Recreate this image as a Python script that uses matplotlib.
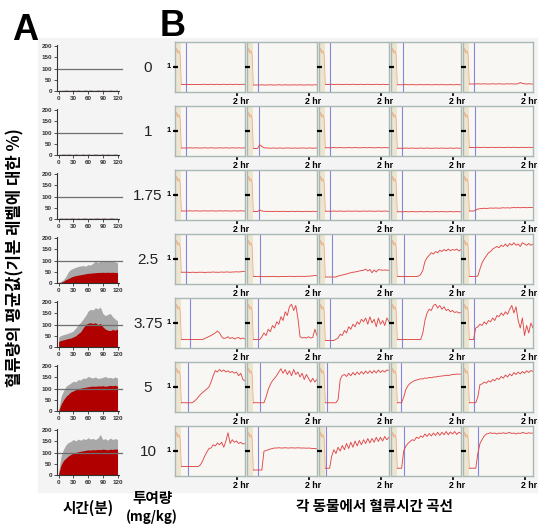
import numpy as np
import matplotlib.pyplot as plt
from matplotlib.patches import Rectangle

plt.rcParams['font.family'] = ['Noto Sans CJK KR', 'DejaVu Sans']

W, H = 538, 524

doses = ['0', '1', '1.75', '2.5', '3.75', '5', '10']

# panel A: time (min) and % of baseline, mean (red) and mean+SD (grey)
t_a = np.arange(0, 121, 5)
a_mean = [
    [1, 2, 2, 3, 2, 2, 3, 2, 3, 2, 2, 3, 2, 3, 2, 2, 3, 2, 3, 2, 2, 3, 2, 2, 3],
    [2, 2, 3, 2, 3, 2, 2, 3, 2, 2, 3, 2, 3, 2, 2, 3, 2, 2, 3, 2, 3, 2, 2, 3, 2],
    [2, 3, 2, 3, 2, 3, 3, 2, 3, 2, 3, 3, 2, 3, 2, 3, 3, 2, 3, 3, 2, 3, 3, 2, 3],
    [0, 3, 8, 15, 20, 26, 30, 33, 35, 37, 39, 41, 43, 44, 45, 46, 47, 47, 48, 47, 48, 47, 48, 47, 46],
    [25, 29, 32, 35, 38, 40, 45, 50, 60, 68, 85, 100, 106, 108, 105, 108, 100, 105, 90, 80, 75, 73, 78, 75, 80],
    [0, 30, 50, 65, 75, 85, 90, 95, 100, 102, 104, 106, 108, 110, 111, 110, 112, 111, 113, 110, 112, 114, 113, 115, 110],
    [5, 45, 65, 75, 85, 92, 97, 100, 104, 106, 108, 110, 112, 111, 113, 112, 114, 113, 115, 114, 112, 115, 114, 116, 115],
]
a_upper = [
    [3, 4, 4, 5, 4, 4, 5, 4, 5, 4, 4, 5, 4, 5, 4, 4, 5, 4, 5, 4, 4, 5, 4, 4, 5],
    [4, 4, 5, 4, 5, 4, 4, 5, 4, 4, 5, 4, 5, 4, 4, 5, 4, 4, 5, 4, 5, 4, 4, 5, 4],
    [4, 5, 4, 5, 4, 5, 5, 4, 5, 4, 5, 5, 4, 5, 4, 5, 5, 4, 5, 5, 4, 5, 5, 4, 5],
    [2, 8, 15, 30, 50, 61, 66, 70, 74, 76, 78, 75, 82, 80, 88, 98, 92, 97, 95, 99, 98, 96, 99, 94, 90],
    [45, 51, 55, 58, 62, 66, 72, 85, 100, 110, 125, 140, 160, 168, 165, 175, 170, 178, 150, 140, 145, 150, 135, 125, 117],
    [5, 65, 90, 110, 118, 125, 133, 130, 140, 138, 147, 145, 154, 150, 147, 152, 145, 147, 150, 154, 148, 150, 146, 152, 147],
    [15, 85, 115, 135, 145, 150, 158, 152, 160, 155, 162, 158, 166, 160, 163, 158, 165, 181, 158, 162, 155, 165, 158, 162, 159],
]

# panel B: single animal curves, relative flow (1 = baseline), t = -10 .. 140 min
t_b = np.arange(-10, 141, 5)
pre_t = [-23, -21, -18, -15, -13]
pre_v = [1.6, 1.75, 1.55, 1.65, 1.5]
onset = [
    [2, 2, 2, 3, 2],
    [2, 3, 2, 2, 3],
    [2, 3, 2, 2, 3],
    [0, 5, 5, 5, 3],
    [11, 2, 2, 2, 2],
    [6, 5, -6, -2, 2],
    [5, 2, -8, 5, 10],
]
b_dose0 = [
    [0.30, 0.30, 0.30, 0.30, 0.30, 0.30, 0.30, 0.30, 0.30, 0.30, 0.30, 0.31, 0.30, 0.30, 0.31, 0.30, 0.30, 0.31, 0.30, 0.30,
     0.31, 0.30, 0.30, 0.31, 0.30, 0.30, 0.31, 0.30, 0.30, 0.31, 0.30],
    [0.28, 0.28, 0.28, 0.28, 0.29, 0.28, 0.28, 0.28, 0.29, 0.28, 0.28, 0.28, 0.29, 0.28, 0.28, 0.29, 0.28, 0.28, 0.28, 0.29,
     0.28, 0.28, 0.29, 0.28, 0.28, 0.28, 0.29, 0.28, 0.28, 0.29, 0.28],
    [0.30, 0.30, 0.30, 0.31, 0.30, 0.30, 0.31, 0.30, 0.30, 0.30, 0.31, 0.30, 0.30, 0.31, 0.30, 0.30, 0.30, 0.31, 0.30, 0.30,
     0.31, 0.30, 0.30, 0.30, 0.31, 0.30, 0.30, 0.31, 0.30, 0.30, 0.30],
    [0.29, 0.29, 0.29, 0.29, 0.30, 0.29, 0.29, 0.30, 0.29, 0.29, 0.29, 0.30, 0.29, 0.29, 0.30, 0.29, 0.29, 0.29, 0.30, 0.29,
     0.29, 0.30, 0.29, 0.29, 0.29, 0.30, 0.29, 0.29, 0.30, 0.29, 0.29],
    [0.32, 0.32, 0.32, 0.32, 0.33, 0.32, 0.32, 0.33, 0.32, 0.32, 0.32, 0.33, 0.32, 0.32, 0.33, 0.32, 0.32, 0.32, 0.33, 0.32,
     0.33, 0.32, 0.32, 0.33, 0.38, 0.34, 0.33, 0.32, 0.33, 0.32, 0.32],
]
b_dose1 = [
    [0.32, 0.32, 0.32, 0.32, 0.33, 0.32, 0.32, 0.33, 0.32, 0.32, 0.32, 0.33, 0.32, 0.32, 0.33, 0.32, 0.32, 0.32, 0.33, 0.32,
     0.32, 0.33, 0.32, 0.32, 0.33, 0.32, 0.32, 0.33, 0.32, 0.32, 0.33],
    [0.30, 0.30, 0.30, 0.45, 0.38, 0.33, 0.32, 0.32, 0.31, 0.32, 0.32, 0.31, 0.32, 0.32, 0.31, 0.32, 0.32, 0.32, 0.31, 0.32,
     0.32, 0.31, 0.32, 0.32, 0.32, 0.31, 0.32, 0.32, 0.31, 0.32, 0.32],
    [0.33, 0.33, 0.33, 0.33, 0.34, 0.33, 0.33, 0.34, 0.33, 0.33, 0.33, 0.34, 0.33, 0.33, 0.34, 0.33, 0.33, 0.33, 0.34, 0.33,
     0.33, 0.34, 0.33, 0.33, 0.33, 0.34, 0.33, 0.33, 0.34, 0.33, 0.33],
    [0.31, 0.31, 0.31, 0.31, 0.32, 0.31, 0.31, 0.32, 0.31, 0.31, 0.31, 0.32, 0.31, 0.31, 0.32, 0.31, 0.31, 0.31, 0.32, 0.31,
     0.31, 0.32, 0.31, 0.31, 0.31, 0.32, 0.31, 0.31, 0.32, 0.31, 0.31],
    [0.34, 0.34, 0.34, 0.34, 0.35, 0.34, 0.34, 0.35, 0.34, 0.34, 0.34, 0.35, 0.34, 0.34, 0.35, 0.34, 0.34, 0.34, 0.35, 0.34,
     0.34, 0.35, 0.34, 0.34, 0.34, 0.35, 0.34, 0.34, 0.35, 0.34, 0.34],
]
b_dose175 = [
    [0.36, 0.36, 0.36, 0.36, 0.37, 0.36, 0.36, 0.37, 0.36, 0.36, 0.36, 0.37, 0.36, 0.36, 0.37, 0.36, 0.36, 0.36, 0.37, 0.36,
     0.36, 0.37, 0.36, 0.36, 0.36, 0.37, 0.36, 0.36, 0.37, 0.36, 0.36],
    [0.34, 0.34, 0.34, 0.40, 0.36, 0.35, 0.34, 0.35, 0.34, 0.34, 0.34, 0.35, 0.34, 0.34, 0.35, 0.34, 0.34, 0.34, 0.35, 0.34,
     0.34, 0.35, 0.34, 0.34, 0.34, 0.35, 0.34, 0.34, 0.35, 0.34, 0.34],
    [0.35, 0.35, 0.35, 0.35, 0.36, 0.35, 0.35, 0.36, 0.35, 0.35, 0.35, 0.36, 0.35, 0.35, 0.36, 0.35, 0.35, 0.35, 0.36, 0.35,
     0.35, 0.36, 0.35, 0.35, 0.35, 0.36, 0.35, 0.35, 0.36, 0.35, 0.35],
    [0.33, 0.33, 0.33, 0.33, 0.34, 0.33, 0.33, 0.34, 0.33, 0.33, 0.33, 0.34, 0.33, 0.33, 0.34, 0.33, 0.33, 0.33, 0.34, 0.33,
     0.33, 0.34, 0.33, 0.33, 0.33, 0.34, 0.33, 0.33, 0.34, 0.33, 0.33],
    [0.36, 0.36, 0.36, 0.40, 0.44, 0.45, 0.46, 0.47, 0.46, 0.47, 0.48, 0.47, 0.48, 0.48, 0.47, 0.48, 0.49, 0.48, 0.49, 0.48,
     0.49, 0.50, 0.49, 0.50, 0.49, 0.50, 0.50, 0.49, 0.50, 0.50, 0.50],
]
b_dose25 = [
    [0.47, 0.47, 0.47, 0.47, 0.46, 0.47, 0.47, 0.46, 0.47, 0.47, 0.47, 0.46, 0.47, 0.47, 0.47, 0.48, 0.47, 0.47, 0.47, 0.48,
     0.47, 0.48, 0.48, 0.47, 0.48, 0.48, 0.49, 0.48, 0.49, 0.50, 0.50],
    [0.30, 0.30, 0.30, 0.30, 0.30, 0.29, 0.30, 0.30, 0.30, 0.30, 0.30, 0.30, 0.29, 0.30, 0.30, 0.30, 0.30, 0.31, 0.30, 0.30,
     0.30, 0.31, 0.30, 0.31, 0.30, 0.31, 0.31, 0.32, 0.33, 0.34, 0.33],
    [0.28, 0.28, 0.28, 0.28, 0.28, 0.28, 0.32, 0.34, 0.36, 0.38, 0.40, 0.43, 0.45, 0.47, 0.48, 0.50, 0.52, 0.54, 0.55, 0.60,
     0.52, 0.58, 0.45, 0.56, 0.48, 0.58, 0.56, 0.55, 0.56, 0.55, 0.55],
    [0.30, 0.30, 0.30, 0.30, 0.30, 0.30, 0.30, 0.30, 0.30, 0.30, 0.32, 0.38, 0.55, 0.90, 1.05, 1.15, 1.25, 1.20, 1.30, 1.25,
     1.35, 1.30, 1.38, 1.32, 1.40, 1.33, 1.38, 1.35, 1.40, 1.32, 1.38],
    [0.30, 0.30, 0.30, 0.30, 0.32, 0.60, 0.85, 1.00, 1.12, 1.25, 1.30, 1.40, 1.45, 1.50, 1.45, 1.55, 1.50, 1.60, 1.50, 1.62,
     1.55, 1.65, 1.55, 1.60, 1.50, 1.65, 1.60, 1.55, 1.62, 1.55, 1.60],
]
b_dose375 = [
    [0.34, 0.34, 0.34, 0.34, 0.34, 0.34, 0.34, 0.34, 0.34, 0.34, 0.34, 0.38, 0.42, 0.46, 0.50, 0.55, 0.60, 0.68, 0.60, 0.45,
     0.38, 0.40, 0.45, 0.38, 0.42, 0.36, 0.40, 0.42, 0.36, 0.40, 0.36],
    [0.34, 0.34, 0.34, 0.34, 0.45, 0.60, 0.50, 0.75, 0.65, 0.90, 0.80, 1.05, 0.95, 1.25, 1.10, 1.45, 1.30, 1.65, 1.75, 1.50,
     1.70, 1.20, 0.45, 0.40, 0.42, 0.40, 0.45, 0.40, 0.42, 0.75, 0.50],
    [0.30, 0.30, 0.30, 0.30, 0.30, 0.35, 0.40, 0.55, 0.50, 0.70, 0.60, 0.85, 0.75, 0.95, 0.85, 1.05, 0.95, 1.15, 1.05, 1.20,
     0.95, 1.25, 1.00, 1.15, 0.85, 1.20, 0.95, 1.10, 0.90, 1.20, 1.05],
    [0.34, 0.34, 0.34, 0.34, 0.34, 0.34, 0.34, 0.34, 0.34, 0.34, 0.34, 0.34, 0.60, 1.10, 1.40, 1.55, 1.50, 1.70, 1.75, 1.60,
     1.70, 1.55, 1.65, 1.50, 1.55, 1.45, 1.50, 1.42, 1.45, 1.40, 1.42],
    [0.34, 0.34, 0.34, 0.80, 0.85, 0.95, 0.90, 1.05, 0.95, 1.10, 1.05, 1.20, 1.10, 1.30, 1.25, 1.40, 1.30, 1.45, 1.35, 1.55,
     1.70, 1.40, 1.65, 1.10, 0.80, 1.20, 0.50, 0.90, 0.60, 1.00, 0.80],
]
b_dose5 = [
    [0.37, 0.37, 0.37, 0.37, 0.37, 0.37, 0.42, 0.50, 0.60, 0.70, 0.78, 0.85, 0.92, 1.00, 1.20, 1.45, 1.66, 1.60, 1.70, 1.62,
     1.68, 1.60, 1.65, 1.58, 1.62, 1.55, 1.60, 1.45, 1.55, 1.30, 1.25],
    [0.37, 0.37, 0.37, 0.37, 0.37, 0.37, 0.60, 0.90, 1.10, 1.25, 1.35, 1.46, 1.60, 1.73, 1.55, 1.70, 1.50, 1.65, 1.45, 1.70,
     1.50, 1.60, 1.40, 1.55, 1.30, 1.50, 1.35, 1.20, 1.35, 1.20, 1.30],
    [0.37, 0.37, 0.37, 0.37, 0.37, 0.37, 0.50, 1.30, 1.46, 1.50, 1.42, 1.55, 1.45, 1.58, 1.48, 1.60, 1.50, 1.62, 1.52, 1.64,
     1.54, 1.65, 1.55, 1.66, 1.56, 1.68, 1.58, 1.66, 1.60, 1.68, 1.66],
    [0.37, 0.37, 0.37, 0.60, 0.90, 1.05, 1.15, 1.20, 1.25, 1.28, 1.30, 1.33, 1.32, 1.36, 1.35, 1.38, 1.37, 1.40, 1.40, 1.42,
     1.43, 1.44, 1.45, 1.47, 1.46, 1.48, 1.50, 1.50, 1.52, 1.51, 1.52],
    [0.37, 0.37, 0.37, 0.37, 0.60, 1.10, 1.12, 1.20, 1.15, 1.25, 1.20, 1.30, 1.25, 1.35, 1.30, 1.42, 1.35, 1.48, 1.40, 1.52,
     1.45, 1.58, 1.50, 1.60, 1.52, 1.62, 1.55, 1.65, 1.58, 1.66, 1.62],
]
b_dose10 = [
    [0.38, 0.38, 0.38, 0.38, 0.38, 0.38, 0.38, 0.38, 0.38, 0.45, 0.60, 0.80, 0.95, 1.10, 1.12, 1.25, 1.20, 1.32, 1.25, 1.35,
     1.15, 1.40, 1.73, 1.30, 1.45, 1.35, 1.40, 1.30, 1.35, 1.28, 1.30],
    [0.24, 0.24, 0.24, 0.24, 0.24, 0.99, 1.02, 1.05, 1.08, 1.10, 1.12, 1.12, 1.13, 1.12, 1.12, 1.13, 1.12, 1.12, 1.13, 1.12,
     1.12, 1.13, 1.12, 1.12, 1.12, 1.11, 1.12, 1.11, 1.10, 1.10, 1.08],
    [0.31, 0.31, 0.31, 0.80, 1.05, 0.90, 1.15, 1.00, 1.22, 1.05, 1.30, 1.10, 1.35, 1.15, 1.40, 1.20, 1.42, 1.25, 1.45, 1.30,
     1.50, 1.32, 1.50, 1.35, 1.55, 1.38, 1.55, 1.40, 1.58, 1.45, 1.55],
    [0.31, 0.31, 0.31, 1.00, 1.20, 1.30, 1.38, 1.45, 1.42, 1.55, 1.50, 1.60, 1.55, 1.68, 1.58, 1.70, 1.60, 1.72, 1.62, 1.75,
     1.62, 1.75, 1.65, 1.78, 1.65, 1.76, 1.68, 1.78, 1.66, 1.75, 1.70],
    [0.31, 0.31, 0.31, 0.31, 0.90, 1.30, 1.46, 1.60, 1.68, 1.70, 1.73, 1.70, 1.72, 1.68, 1.72, 1.70, 1.73, 1.70, 1.72, 1.74,
     1.70, 1.72, 1.68, 1.72, 1.70, 1.74, 1.72, 1.70, 1.73, 1.71, 1.72],
]
b_traces = [b_dose0, b_dose1, b_dose175, b_dose25, b_dose375, b_dose5, b_dose10]


def box(x0, y0, w, h):
    return [x0 / W, 1 - (y0 + h) / H, w / W, h / H]


fig = plt.figure(figsize=(W / 100, H / 100), dpi=100)
fig.patches.append(Rectangle((38 / W, 1 - 492 / H), (540 - 38) / W, (492 - 38) / H,
                             transform=fig.transFigure, color='#f4f4f4', zorder=-10))

# panel A
for i in range(7):
    ax = fig.add_axes(box(57, 45 + 64 * i, 61.5, 46))
    ax.set_facecolor('none')
    ax.fill_between(t_a, 0, a_upper[i], color='#a8a8a8', lw=0)
    ax.fill_between(t_a, 0, a_mean[i], color='#b00000', lw=0)
    ax.plot([-3, 129], [100, 100], color='#6e6e6e', lw=0.9, clip_on=False)
    ax.set_xlim(-3.3, 122)
    ax.set_ylim(0, 205)
    ax.set_xticks([0, 30, 60, 90, 120])
    ax.set_yticks([0, 50, 100, 150, 200])
    for s in ['top', 'right']:
        ax.spines[s].set_visible(False)
    for s in ['left', 'bottom']:
        ax.spines[s].set_color('#333333')
        ax.spines[s].set_linewidth(0.8)
    ax.tick_params(labelsize=4.5, length=2, width=0.6, pad=1.5, colors='#333333')
    for lb in ax.get_xticklabels() + ax.get_yticklabels():
        lb.set_fontweight('bold')
        lb.set_family('Liberation Sans')
    fig.text(148 / W, 1 - (68 + 64 * i) / H, doses[i], ha='center', va='center',
             fontsize=11, family='Liberation Sans', color='#222222')

# panel B
for i in range(7):
    for j in range(5):
        ax = fig.add_axes(box(175 + 72 * j, 42 + 64 * i, 70, 50))
        ax.set_facecolor('#f8f7f4')
        ax.axvspan(-25, -12, color='#ece5d2', lw=0)
        ax.axvline(onset[i][j], color='#8585dd', lw=0.8)
        tr = b_traces[i][j]
        ax.plot(pre_t + [t_b[0]], pre_v + [tr[0]], color='#eeb088', lw=0.6)
        ax.plot(t_b, tr, color='#e04848', lw=0.65)
        ax.set_xlim(-25, 140)
        ax.set_ylim(0, 2)
        for s in ax.spines.values():
            s.set_color('#a9b8b3')
            s.set_linewidth(1.0)
        # black dash marking level 1 on the left edge
        ax.plot([-0.035, 0.045], [0.5, 0.5], transform=ax.transAxes, color='black',
                lw=1.6, clip_on=False, zorder=6, solid_capstyle='butt')
        ax.set_yticks([])
        if j == 0:
            ax.text(-0.06, 0.5, '1', transform=ax.transAxes, ha='right', va='center',
                    fontsize=5.5, fontweight='bold', family='Liberation Sans')
        ax.set_xticks([120])
        ax.set_xticklabels([''])
        ax.tick_params(axis='x', length=3, width=1.2, direction='out', pad=0)
        ax.text(0.835, -0.1, '2 hr', transform=ax.transAxes, ha='left', va='top',
                fontsize=6.3, fontweight='bold', family='Liberation Sans')

fig.text(12 / W, 1 - 30 / H, 'A', fontsize=26, fontweight='bold', family='Liberation Sans', va='center', ha='left')
fig.text(160 / W, 1 - 26 / H, 'B', fontsize=26, fontweight='bold', family='Liberation Sans', va='center', ha='left')
fig.text(15 / W, 1 - 258 / H, '혈류량의 평균값(기본 레벨에 대한 %)', rotation=90, ha='center', va='center',
         fontsize=12, fontweight='bold')
fig.text(88 / W, 1 - 508 / H, '시간(분)', ha='center', va='center', fontsize=10.5, fontweight='bold')
fig.text(152 / W, 1 - 498 / H, '투여량', ha='center', va='center', fontsize=10.5, fontweight='bold')
fig.text(152 / W, 1 - 517 / H, '(mg/kg)', ha='center', va='center', fontsize=9.5, fontweight='bold')
fig.text(374 / W, 1 - 506 / H, '각 동물에서 혈류시간 곡선', ha='center', va='center', fontsize=10.5, fontweight='bold')

fig.savefig('out.png', dpi=100)
